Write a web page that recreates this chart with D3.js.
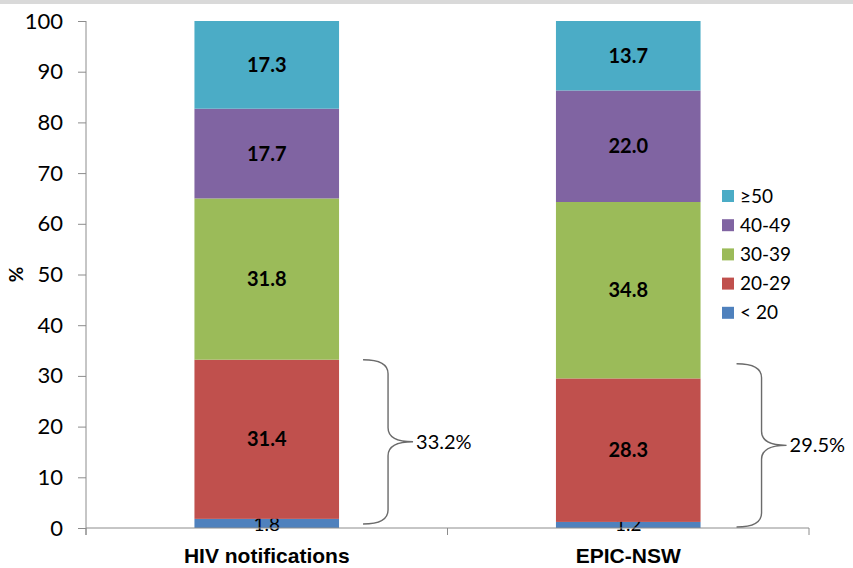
<!DOCTYPE html>
<html>
<head>
<meta charset="utf-8">
<script src="https://cdn.jsdelivr.net/npm/d3@7"></script>
<style>
  body { margin: 0; background: #fff; }
  svg { display: block; }
</style>
</head>
<body>
<div id="chart"></div>
<script>
// categories and age groups (bottom to top)
const categories = ["HIV notifications", "EPIC-NSW"];
const ageGroups = ["< 20", "20-29", "30-39", "40-49", "\u226550"];
const hivValues = [1.8, 31.4, 31.8, 17.7, 17.3];
const epicValues = [1.2, 28.3, 34.8, 22.0, 13.7];
const groupColors = ["#4F81BD", "#C0504D", "#9BBB59", "#8064A2", "#4BACC6"];
const yTicks = [0, 10, 20, 30, 40, 50, 60, 70, 80, 90, 100];

// brace annotations (under-30 share)
const braceLabels = ["33.2%", "29.5%"];
const braceTop = [33.2, 32.4];
const braceBottom = [0.8, 0.2];

const width = 853, height = 568;
const margin = { left: 86, top: 21, right: 44, bottom: 40 };
const font = "Lato, 'Open Sans', sans-serif";

const svg = d3.select("#chart").append("svg")
  .attr("width", width)
  .attr("height", height);

// thin grey band at the very top
svg.append("rect")
  .attr("x", 0).attr("y", 0)
  .attr("width", width).attr("height", 4)
  .attr("fill", "#d9d9d9");

const x = d3.scaleBand()
  .domain(categories)
  .range([margin.left, width - margin.right])
  .paddingInner(0.6)
  .paddingOuter(0.3);

const y = d3.scaleLinear()
  .domain([0, 100])
  .range([height - margin.bottom, margin.top]);

const color = d3.scaleOrdinal().domain(ageGroups).range(groupColors);

// stacked rows
const rows = categories.map((c, i) => {
  const vals = i === 0 ? hivValues : epicValues;
  const row = { category: c };
  ageGroups.forEach((g, j) => row[g] = vals[j]);
  return row;
});
const series = d3.stack().keys(ageGroups)(rows);

// bars
const layers = svg.append("g").selectAll("g")
  .data(series)
  .join("g")
  .attr("fill", d => color(d.key));

layers.selectAll("rect")
  .data(d => d)
  .join("rect")
  .attr("x", d => x(d.data.category))
  .attr("width", x.bandwidth())
  .attr("y", d => y(d[1]))
  .attr("height", d => y(d[0]) - y(d[1]));

// value labels
layers.each(function(s) {
  const small = s.key === "< 20";
  d3.select(this).selectAll("text")
    .data(s)
    .join("text")
    .attr("x", d => x(d.data.category) + x.bandwidth() / 2)
    .attr("y", d => small ? y(0) : (y(d[0]) + y(d[1])) / 2)
    .attr("dy", small ? "0.15em" : "0.35em")
    .attr("text-anchor", "middle")
    .attr("font-family", font)
    .attr("font-size", small ? "19px" : "20px")
    .attr("font-weight", small ? "normal" : "bold")
    .attr("fill", "#000")
    .text(d => (d[1] - d[0]).toFixed(1));
});

// y axis
const yAxis = d3.axisLeft(y).tickValues(yTicks).tickSize(8).tickPadding(15);
const yAxisG = svg.append("g")
  .attr("transform", "translate(" + margin.left + ",0)")
  .call(yAxis);
yAxisG.select(".domain").attr("d", "M0," + y(100) + "V" + (y(0) + 7));
yAxisG.selectAll("line, path").attr("stroke", "#8c8c8c");
yAxisG.selectAll("text")
  .attr("font-family", font)
  .attr("font-size", "22px")
  .attr("fill", "#000");

// x axis
const xAxisG = svg.append("g")
  .attr("transform", "translate(0," + y(0) + ")");
xAxisG.append("line")
  .attr("x1", margin.left).attr("x2", width - margin.right)
  .attr("stroke", "#8c8c8c");
const xBounds = [margin.left, (margin.left + width - margin.right) / 2, width - margin.right];
xAxisG.selectAll(".xtick")
  .data(xBounds)
  .join("line")
  .attr("class", "xtick")
  .attr("x1", d => d).attr("x2", d => d)
  .attr("y1", 0).attr("y2", 7)
  .attr("stroke", "#8c8c8c");
xAxisG.selectAll(".xlabel")
  .data(categories)
  .join("text")
  .attr("class", "xlabel")
  .attr("x", d => x(d) + x.bandwidth() / 2)
  .attr("y", 35)
  .attr("text-anchor", "middle")
  .attr("font-family", "'Liberation Sans', Arial, sans-serif")
  .attr("font-weight", "bold")
  .attr("font-size", "21px")
  .attr("fill", "#000")
  .text(d => d);

// y axis title
svg.append("text")
  .attr("transform", "translate(23," + y(50) + ") rotate(-90)")
  .attr("text-anchor", "middle")
  .attr("font-family", font)
  .attr("font-weight", "bold")
  .attr("font-size", "19px")
  .attr("fill", "#000")
  .text("%");

// braces
const braceOffset = [24, 36];
categories.forEach((c, i) => {
  const x0 = x(c) + x.bandwidth() + braceOffset[i];
  const xs = x0 + 25, xp = x0 + 50;
  const y0 = y(braceTop[i]), y1 = y(braceBottom[i]);
  const ym = (y0 + y1) / 2, r = 14;
  const path = "M" + x0 + "," + y0 +
    "Q" + xs + "," + y0 + " " + xs + "," + (y0 + r) +
    "L" + xs + "," + (ym - r) +
    "Q" + xs + "," + ym + " " + xp + "," + ym +
    "Q" + xs + "," + ym + " " + xs + "," + (ym + r) +
    "L" + xs + "," + (y1 - r) +
    "Q" + xs + "," + y1 + " " + x0 + "," + y1;
  svg.append("path")
    .attr("d", path)
    .attr("fill", "none")
    .attr("stroke", "#6b6b6b")
    .attr("stroke-width", 1.4);
  svg.append("text")
    .attr("x", xp + 3)
    .attr("y", ym)
    .attr("dy", "0.35em")
    .attr("font-family", font)
    .attr("font-size", "20px")
    .attr("fill", "#000")
    .text(braceLabels[i]);
});

// legend (top group first)
const legend = svg.append("g")
  .attr("transform", "translate(722,190)");
const legendItems = legend.selectAll("g")
  .data(ageGroups.slice().reverse())
  .join("g")
  .attr("transform", (d, i) => "translate(0," + (i * 29.2) + ")");
legendItems.append("rect")
  .attr("width", 12).attr("height", 12)
  .attr("fill", d => color(d));
legendItems.append("text")
  .attr("x", 18)
  .attr("y", 6)
  .attr("dy", "0.35em")
  .attr("font-family", font)
  .attr("font-size", "19px")
  .attr("fill", "#000")
  .text(d => d);
</script>
</body>
</html>
